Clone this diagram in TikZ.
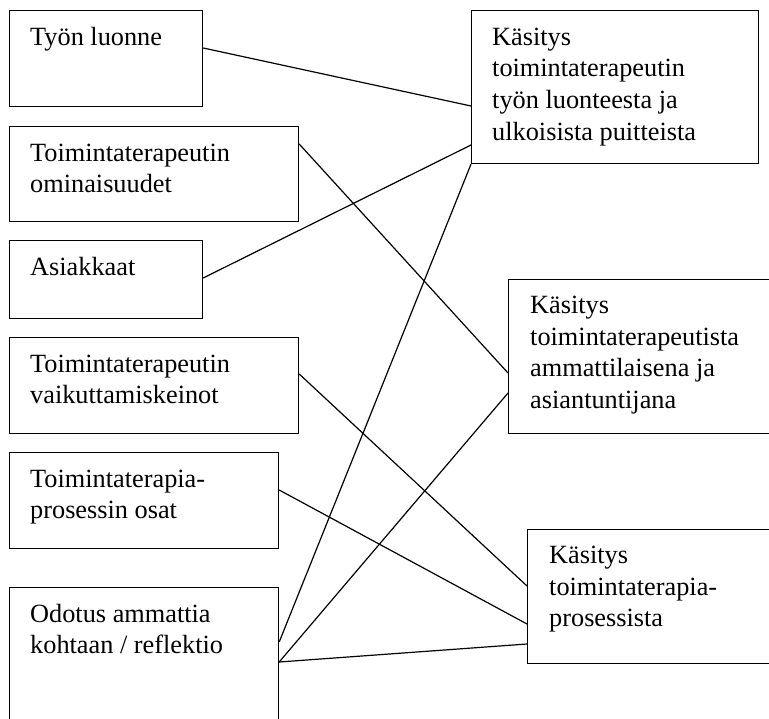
\documentclass[tikz,border=0pt]{standalone}
\usepackage{fontspec}
\setmainfont{Liberation Serif}
\usetikzlibrary{calc}
\begin{document}
\begin{tikzpicture}[x=1pt,y=-1pt,
  box/.style={draw, line width=1.2pt, inner sep=0pt, anchor=north west},
  lbl/.style={anchor=north west, inner sep=0pt, align=left, font=\fontsize{26.3}{31.7}\selectfont},
  link/.style={line width=1.2pt}]
\useasboundingbox (0,0) rectangle (769,719);
\clip (0,0) rectangle (769,719);
% left boxes
\node[box, minimum width=193pt, minimum height=96pt] (b1) at (9,10) {};
\node[box, minimum width=289pt, minimum height=95pt] (b2) at (9,126) {};
\node[box, minimum width=193pt, minimum height=78pt] (b3) at (9,240) {};
\node[box, minimum width=289pt, minimum height=96pt] (b4) at (9,337) {};
\node[box, minimum width=269pt, minimum height=96pt] (b5) at (9,452) {};
\node[box, minimum width=269pt, minimum height=160pt] (b6) at (9,587) {};
% right boxes
\node[box, minimum width=287pt, minimum height=153pt] (r1) at (471,10) {};
\node[box, minimum width=290pt, minimum height=154pt] (r2) at (508,279) {};
\node[box, minimum width=270pt, minimum height=134pt] (r3) at (527,529) {};
% texts
\node[lbl] (t1) at ($(b1.north west)+(21,12.8)$) {\strut Työn luonne};
\node[lbl] (t2) at ($(b2.north west)+(21,12.8)$) {\strut Toimintaterapeutin\\ominaisuudet};
\node[lbl] (t3) at ($(b3.north west)+(21,12.8)$) {\strut Asiakkaat};
\node[lbl] (t4) at ($(b4.north west)+(21,12.8)$) {\strut Toimintaterapeutin\\vaikuttamiskeinot};
\node[lbl] (t5) at ($(b5.north west)+(21,12.8)$) {\strut Toimintaterapia-\\prosessin osat};
\node[lbl] (t6) at ($(b6.north west)+(21,12.8)$) {\strut Odotus ammattia\\kohtaan / reflektio};
\node[lbl] (t7) at ($(r1.north west)+(21,12.8)$) {\strut Käsitys\\toimintaterapeutin\\työn luonteesta ja\\ulkoisista puitteista};
\node[lbl] (t8) at ($(r2.north west)+(22,12)$) {\strut Käsitys\\toimintaterapeutista\\ammattilaisena ja\\asiantuntijana};
\node[lbl] (t9) at ($(r3.north west)+(22,12)$) {\strut Käsitys\\toimintaterapia-\\prosessista};
% connectors
\draw[link] ($(b1.north east)+(0,38)$) -- ($(r1.north west)+(0,96)$);
\draw[link] ($(b2.north east)+(0,18)$) -- ($(r2.north west)+(0,94)$);
\draw[link] ($(b3.north east)+(0,38)$) -- ($(r1.north west)+(0,135)$);
\draw[link] ($(b4.north east)+(0,37)$) -- ($(r3.north west)+(0,57)$);
\draw[link] ($(b5.north east)+(0,38)$) -- ($(r3.north west)+(0,95)$);
\draw[link] ($(b6.north east)+(0,55)$) -- (r1.south west);
\draw[link] ($(b6.north east)+(0,75)$) -- ($(r2.north west)+(0,114)$);
\draw[link] ($(b6.north east)+(0,75)$) -- ($(r3.north west)+(0,115)$);
\end{tikzpicture}
\end{document}
